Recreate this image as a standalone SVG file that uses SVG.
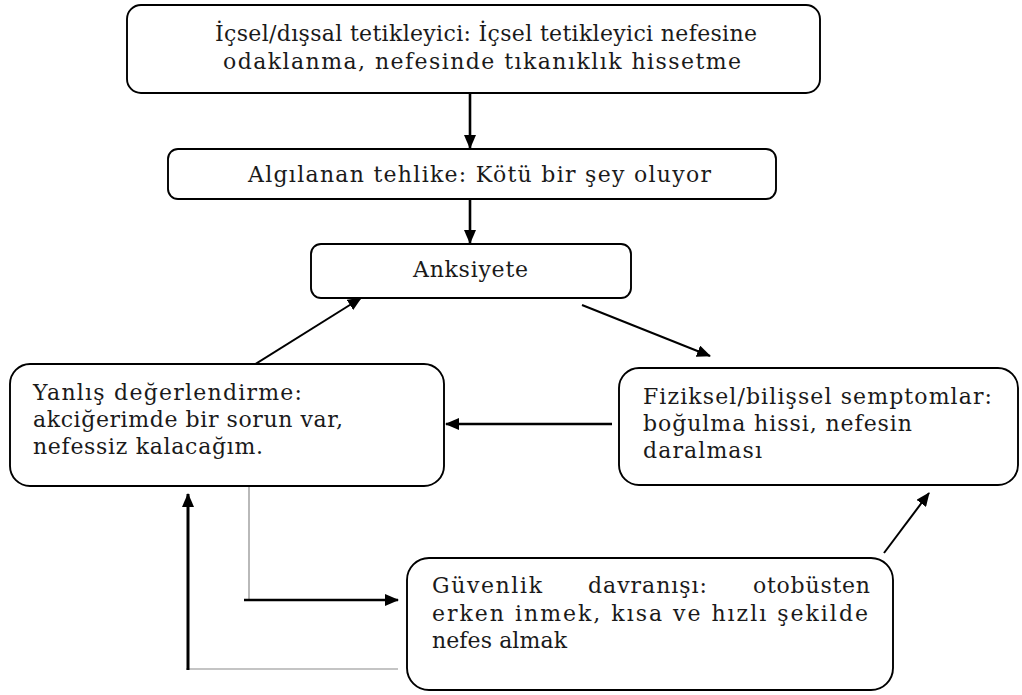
<svg xmlns="http://www.w3.org/2000/svg" width="1022" height="695" viewBox="0 0 1022 695">
  <defs>
    <style>
      .box { fill: #ffffff; stroke: #000000; stroke-width: 1.9; }
      .t { font-family: "DejaVu Serif", "Liberation Serif", serif; font-size: 22px; fill: #1a1a1a; }
      .arr { stroke: #000000; fill: none; marker-end: url(#ah); }
      .thin { stroke: #8a8a8a; stroke-width: 1.2; fill: none; }
    </style>
    <marker id="ah" viewBox="0 0 14 12" refX="13" refY="6" markerWidth="14" markerHeight="12" markerUnits="userSpaceOnUse" orient="auto">
      <path d="M0,0 L14,6 L0,12 z" fill="#000000"/>
    </marker>
  </defs>
  <rect width="1022" height="695" fill="#ffffff"/>

  <g id="connectors">
    <line class="arr" x1="470" y1="93" x2="470" y2="148" stroke-width="2.6"/>
    <line class="arr" x1="470" y1="199" x2="470" y2="243" stroke-width="2.6"/>
    <line class="arr" x1="254" y1="365" x2="361" y2="298" stroke-width="2"/>
    <line class="arr" x1="582" y1="305" x2="710" y2="356" stroke-width="2"/>
    <line class="arr" x1="612" y1="424" x2="446" y2="424" stroke-width="2.6"/>
    <line class="arr" x1="884" y1="553" x2="929" y2="493" stroke-width="2"/>
    <line class="thin" x1="249" y1="475" x2="249" y2="600"/>
    <line class="arr" x1="244" y1="600" x2="398" y2="600" stroke-width="2.6"/>
    <line class="thin" x1="186" y1="669" x2="398" y2="669"/>
    <line class="arr" x1="188" y1="670" x2="188" y2="494" stroke-width="3"/>
  </g>

  <g id="node-trigger">
    <rect class="box" x="127" y="5" width="693" height="88" rx="14"/>
    <text class="t" x="215" y="41" textLength="542">İçsel/dışsal tetikleyici: İçsel tetikleyici nefesine</text>
    <text class="t" x="223" y="69" textLength="518">odaklanma, nefesinde tıkanıklık hissetme</text>
  </g>

  <g id="node-threat">
    <rect class="box" x="168" y="149" width="608" height="50" rx="10"/>
    <text class="t" x="248" y="182" textLength="463">Algılanan tehlike: Kötü bir şey oluyor</text>
  </g>

  <g id="node-anxiety">
    <rect class="box" x="311" y="244" width="320" height="54" rx="10"/>
    <text class="t" x="413" y="277" textLength="115">Anksiyete</text>
  </g>

  <g id="node-misinterpretation">
    <rect class="box" x="10" y="364" width="434" height="122" rx="20"/>
    <text class="t" x="33" y="400" textLength="269">Yanlış değerlendirme:</text>
    <text class="t" x="33" y="427" textLength="310">akciğerimde bir sorun var,</text>
    <text class="t" x="33" y="454" textLength="230">nefessiz kalacağım.</text>
  </g>

  <g id="node-symptoms">
    <rect class="box" x="619" y="368" width="399" height="117" rx="20"/>
    <text class="t" x="643" y="404" textLength="349">Fiziksel/bilişsel semptomlar:</text>
    <text class="t" x="643" y="431" textLength="269">boğulma hissi, nefesin</text>
    <text class="t" x="643" y="458" textLength="119">daralması</text>
  </g>

  <g id="node-safety">
    <rect class="box" x="407" y="558" width="486" height="132" rx="22"/>
    <text class="t" x="432" y="593" textLength="110">Güvenlik</text>
    <text class="t" x="588" y="593" textLength="119">davranışı:</text>
    <text class="t" x="753" y="593" textLength="117">otobüsten</text>
    <text class="t" x="432" y="621" textLength="436">erken inmek, kısa ve hızlı şekilde</text>
    <text class="t" x="432" y="648" textLength="135">nefes almak</text>
  </g>
</svg>
